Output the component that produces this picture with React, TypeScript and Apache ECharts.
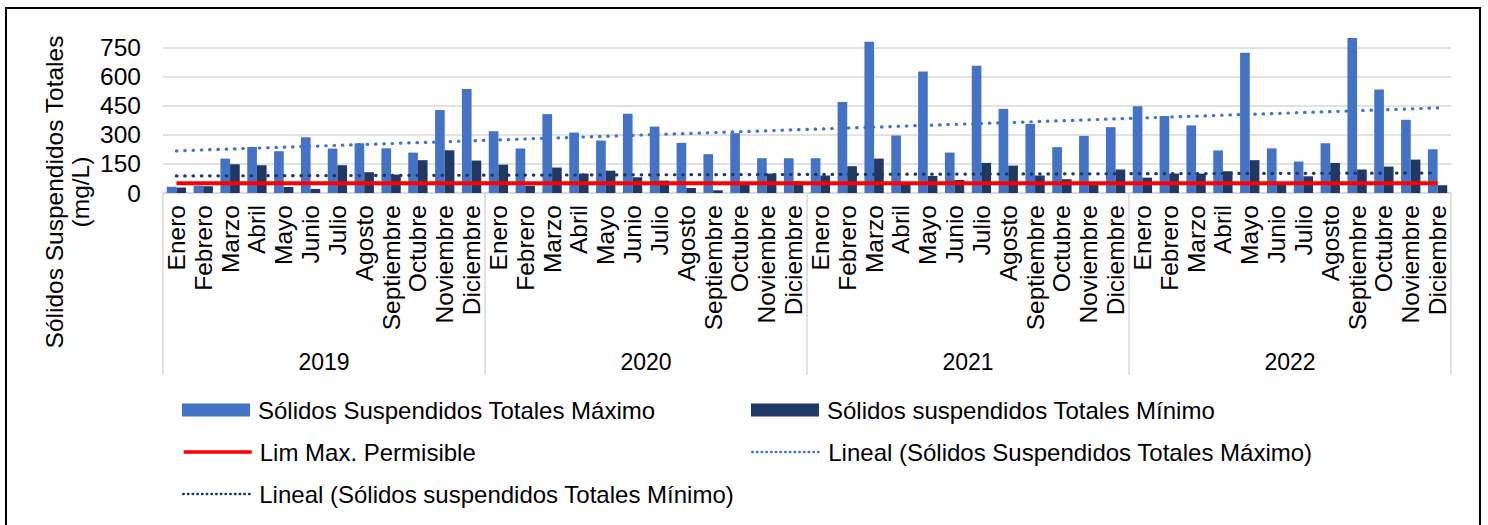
import React, { useEffect, useRef } from "react";
import * as echarts from "echarts";

const FONT = "'Liberation Sans', Arial, sans-serif";

const months = ["Enero", "Febrero", "Marzo", "Abril", "Mayo", "Junio", "Julio", "Agosto", "Septiembre", "Octubre", "Noviembre", "Diciembre"];
const years = ["2019", "2020", "2021", "2022"];

const maxValues = [
  32, 38, 177, 237, 215, 287, 229, 256, 230, 208, 427, 535,
  318, 229, 406, 311, 270, 408, 342, 258, 200, 308, 179, 179,
  179, 468, 779, 296, 626, 208, 655, 433, 356, 236, 294, 339,
  447, 396, 348, 219, 722, 230, 162, 256, 798, 533, 377, 225,
];
const minValues = [
  28, 35, 148, 143, 31, 21, 143, 107, 95, 169, 220, 167,
  146, 38, 131, 100, 115, 81, 64, 26, 14, 45, 100, 60,
  90, 138, 177, 48, 88, 67, 155, 141, 90, 71, 48, 121,
  79, 100, 100, 112, 169, 55, 86, 155, 121, 136, 172, 40,
];
const limitValue = 50;
const maxTrendEnds = [217, 438];
const minTrendEnds = [88, 103];

const yTicks = { min: 0, max: 800, interval: 150 };

const names = {
  max: "Sólidos Suspendidos Totales Máximo",
  min: "Sólidos suspendidos Totales Mínimo",
  lim: "Lim Max. Permisible",
  tMax: "Lineal (Sólidos Suspendidos Totales Máximo)",
  tMin: "Lineal (Sólidos suspendidos Totales Mínimo)",
};

export default function App() {
  const ref = useRef<HTMLDivElement>(null);
  useEffect(() => {
    document.body.style.overflow = "hidden";
    const chart = echarts.init(ref.current!, undefined, { renderer: "svg" });
    const cats: string[] = [];
    years.forEach(() => months.forEach((m) => cats.push(m)));
    const last = cats.length - 1;
    const trend = (ends: number[]) => cats.map((_, i) => (i === 0 ? ends[0] : i === last ? ends[1] : null));
    const dots = { type: [0.5, 7.8], cap: "round" as const };
    const legendBase = { padding: 0, itemWidth: 68, itemHeight: 13, textStyle: { fontFamily: FONT, fontSize: 24, color: "#000", lineHeight: 28, padding: [0, 0, 0, 3] } };
    const lineLegend = { ...legendBase, itemStyle: { opacity: 0 } };
    chart.setOption({
      animation: false,
      backgroundColor: "#fff",
      textStyle: { fontFamily: FONT },
      grid: { left: 163, right: 37, top: 37.6, bottom: 332, containLabel: false },
      xAxis: [
        {
          type: "category",
          data: cats,
          axisLine: { lineStyle: { color: "#d9d9d9", width: 1.5 } },
          axisTick: { show: false },
          axisLabel: { rotate: 90, interval: 0, fontSize: 24.5, color: "#000", margin: 12, fontFamily: FONT },
        },
        {
          type: "category",
          data: years,
          position: "bottom",
          offset: 0,
          axisLine: { show: false },
          axisTick: { show: true, length: 182, lineStyle: { color: "#d9d9d9", width: 1.5 } },
          axisLabel: { fontSize: 23, color: "#000", margin: 157, fontFamily: FONT },
        },
      ],
      yAxis: {
        type: "value",
        min: yTicks.min,
        max: yTicks.max,
        interval: yTicks.interval,
        axisLine: { show: false },
        axisTick: { show: false },
        axisLabel: { fontSize: 24.5, color: "#000", margin: 22, showMaxLabel: false, fontFamily: FONT },
        splitLine: { show: true, showMaxLine: false, lineStyle: { color: "#d9d9d9", width: 1.5 } },
      },
      legend: [
        { ...legendBase, data: [{ name: names.max, icon: "rect" }], left: 182, top: 396 },
        { ...legendBase, data: [{ name: names.min, icon: "rect" }], left: 751, top: 396 },
        { ...lineLegend, data: [names.lim], left: 182, top: 438, lineStyle: { width: 3.5, color: "#FF0000" } },
        { ...lineLegend, data: [names.tMax], left: 751, top: 438, lineStyle: { width: 2.5, type: [0.5, 4.2], cap: "round" } },
        { ...lineLegend, data: [names.tMin], left: 182, top: 480, lineStyle: { width: 2.5, type: [0.5, 4.2], cap: "round" } },
      ],
      graphic: [
        {
          type: "text",
          x: 67,
          y: 192,
          rotation: Math.PI / 2,
          style: {
            text: "Sólidos Suspendidos Totales\n(mg/L)",
            fontFamily: FONT,
            fontSize: 24.5,
            lineHeight: 26,
            fill: "#000",
            align: "center",
            verticalAlign: "middle",
          },
        },
      ],
      series: [
        { name: names.max, type: "bar", data: maxValues, barWidth: "36%", barGap: "0%", itemStyle: { color: "#4472C4" } },
        { name: names.min, type: "bar", data: minValues, barWidth: "36%", barGap: "0%", itemStyle: { color: "#203864" } },
        { name: names.lim, type: "line", data: cats.map(() => limitValue), symbol: "none", lineStyle: { color: "#FF0000", width: 4 }, itemStyle: { color: "#FF0000" }, z: 5 },
        { name: names.tMax, type: "line", data: trend(maxTrendEnds), connectNulls: true, symbol: "none", lineStyle: { color: "#4472C4", width: 3.2, ...dots }, itemStyle: { color: "#4472C4" }, z: 6 },
        { name: names.tMin, type: "line", data: trend(minTrendEnds), connectNulls: true, symbol: "none", lineStyle: { color: "#203864", width: 3.2, ...dots }, itemStyle: { color: "#203864" }, z: 6 },
      ],
    });
    return () => chart.dispose();
  }, []);
  return (
    <>
      <div ref={ref} style={{ position: "absolute", left: 0, top: 0, width: 1488, height: 525 }} />
      <div style={{ position: "absolute", left: 5, top: 7, width: 1472, height: 530, border: "2px solid #000", pointerEvents: "none" }} />
    </>
  );
}
